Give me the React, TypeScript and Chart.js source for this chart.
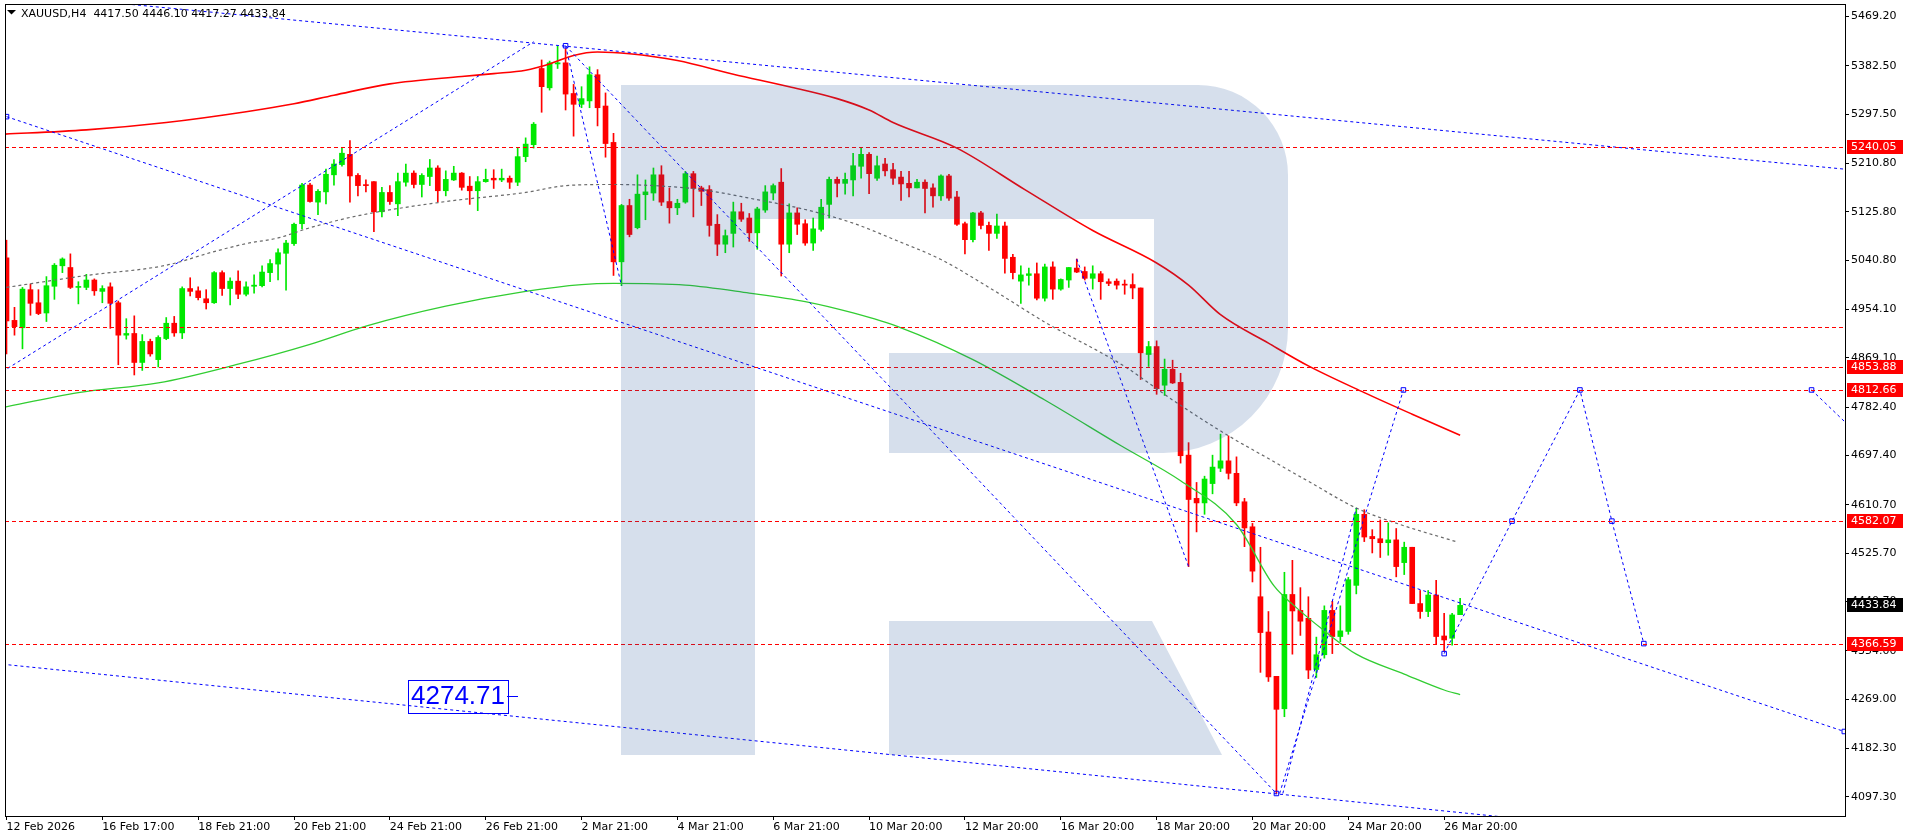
import React, { useEffect, useRef } from 'react';
import { Chart, registerables } from 'chart.js';

Chart.register(...registerables);

// ---------- candle data (XAUUSD H4) ----------
const OPEN = [5045,4935,4922,4989,4966,4948,4995,5031,5028,4993,4993,5006,4986,4994,4966,4909,4912,4861,4898,4866,4903,4930,4913,4991,4987,4973,4966,5019,4991,5004,4981,4995,4996,5019,5034,5053,5070,5105,5173,5143,5161,5191,5209,5227,5190,5173,5179,5126,5160,5140,5178,5194,5174,5188,5203,5163,5182,5194,5171,5163,5179,5185,5182,5185,5178,5223,5244,5378,5344,5386,5388,5334,5315,5321,5367,5312,5248,5038,5137,5098,5156,5159,5191,5144,5133,5143,5193,5168,5165,5104,5069,5088,5126,5115,5089,5129,5159,5178,5069,5124,5105,5071,5095,5139,5183,5176,5182,5206,5227,5185,5210,5200,5187,5176,5168,5178,5168,5154,5189,5152,5105,5077,5124,5102,5088,5101,5046,5004,5014,5017,4974,5029,4990,5006,5027,5021,5009,5017,5003,5004,4998,4998,4992,4875,4889,4821,4849,4826,4698,4622,4614,4648,4675,4688,4666,4616,4572,4449,4387,4309,4252,4453,4425,4411,4321,4347,4425,4379,4388,4469,4594,4555,4551,4544,4549,4509,4536,4437,4423,4452,4380,4376,4417.5];
const HIGH = [5076,4958,4993,4999,4989,5012,5035,5045,5052,5003,5016,5008,4996,5001,4969,4938,4943,4910,4902,4908,4940,4942,4994,5010,4994,4989,5021,5022,5010,5022,5003,5015,5031,5042,5061,5076,5106,5176,5176,5165,5201,5218,5239,5251,5193,5182,5179,5169,5172,5194,5210,5198,5193,5218,5207,5198,5206,5195,5188,5188,5201,5200,5201,5189,5239,5256,5283,5393,5391,5417,5413,5350,5346,5381,5376,5335,5264,5139,5148,5191,5182,5203,5207,5168,5148,5197,5197,5171,5172,5121,5094,5143,5141,5123,5134,5172,5175,5202,5140,5133,5112,5115,5148,5187,5187,5194,5229,5238,5230,5224,5220,5211,5197,5197,5183,5182,5175,5191,5192,5162,5108,5125,5127,5108,5122,5108,5051,5031,5027,5036,5034,5038,5008,5028,5043,5029,5031,5021,5008,5008,5006,5017,4992,4898,4899,4867,4865,4842,4720,4650,4661,4698,4735,4732,4695,4622,4578,4536,4423,4309,4492,4513,4465,4449,4378,4433,4441,4433,4483,4605,4602,4567,4584,4579,4569,4545,4536,4460,4460,4478,4420,4420,4446.1];
const LOW = [4876,4909,4885,4944,4945,4933,4972,5019,4991,4964,4989,4979,4966,4921,4857,4902,4839,4847,4872,4853,4901,4907,4903,4978,4971,4955,4965,4979,4962,4973,4978,4983,4994,5003,5006,4988,5067,5096,5143,5121,5140,5173,5206,5143,5154,5161,5091,5117,5139,5119,5171,5168,5152,5172,5143,5154,5181,5164,5139,5128,5178,5167,5179,5167,5172,5214,5238,5301,5340,5378,5305,5259,5309,5309,5277,5222,5014,4996,5082,5096,5112,5146,5137,5106,5121,5141,5117,5137,5083,5049,5054,5064,5109,5074,5060,5125,5147,5013,5054,5086,5067,5058,5092,5115,5152,5157,5154,5185,5158,5181,5189,5174,5146,5152,5168,5124,5134,5146,5146,5102,5052,5073,5096,5058,5079,5018,5008,4965,4997,4971,4969,4972,4988,4993,5019,5006,4990,4972,4996,4990,4981,4973,4831,4854,4805,4803,4824,4684,4502,4563,4594,4630,4669,4656,4609,4537,4475,4316,4300,4103,4238,4348,4381,4305,4307,4341,4349,4370,4383,4454,4546,4526,4518,4522,4484,4488,4437,4411,4414,4366,4353,4364,4417.27];
const CLOSE = [4934,4924,4990,4965,4947,4996,5032,5043,4993,4994,5006,4987,4991,4965,4909,4912,4861,4898,4876,4905,4930,4913,4991,4986,4975,4966,5019,4991,5004,4981,4994,4997,5020,5035,5054,5071,5104,5173,5144,5162,5192,5210,5229,5189,5172,5172,5126,5160,5144,5179,5194,5174,5190,5203,5163,5183,5194,5169,5163,5179,5183,5182,5185,5178,5223,5245,5280,5346,5388,5388,5333,5315,5325,5367,5309,5246,5038,5137,5086,5157,5161,5191,5143,5133,5141,5193,5167,5162,5102,5069,5084,5126,5113,5089,5131,5161,5172,5069,5124,5104,5071,5096,5134,5183,5176,5183,5207,5227,5193,5207,5198,5185,5175,5168,5178,5167,5154,5189,5150,5104,5077,5124,5102,5088,5101,5044,5019,5015,5017,4974,5029,4990,5007,5028,5020,5009,5017,5003,5000,4997,4997,4992,4878,4889,4815,4849,4825,4697,4620,4614,4656,4677,4688,4666,4614,4570,4494,4386,4308,4251,4453,4424,4406,4320,4347,4425,4379,4389,4479,4594,4554,4551,4544,4549,4502,4536,4437,4423,4452,4379,4373,4417,4433.84];

// ---------- axes ----------
const X_TICK_BARS = [0, 12, 24, 36, 48, 60, 72, 84, 96, 108, 120, 132, 144, 156, 168, 180];
const X_TICK_LABELS = ['12 Feb 2026', '16 Feb 17:00', '18 Feb 21:00', '20 Feb 21:00', '24 Feb 21:00', '26 Feb 21:00', '2 Mar 21:00', '4 Mar 21:00', '6 Mar 21:00', '10 Mar 20:00', '12 Mar 20:00', '16 Mar 20:00', '18 Mar 20:00', '20 Mar 20:00', '24 Mar 20:00', '26 Mar 20:00'];
const Y_TICK_VALUES = [5469.2, 5382.5, 5297.5, 5210.8, 5125.8, 5040.8, 4954.1, 4869.1, 4782.4, 4697.4, 4610.7, 4525.7, 4440.7, 4354.0, 4269.0, 4182.3, 4097.3];
const X_RANGE = [-0.1875, 230.1875];
const Y_RANGE = [4063.4, 5489.65];

// ---------- levels ----------
const LEVELS = [5240.05, 4923.5, 4853.88, 4812.66, 4582.07, 4366.59];
const LEVEL_TAGGED = [true, false, true, true, true, true];
const CURRENT_PRICE = 4433.84;
const HEADER = 'XAUUSD,H4  4417.50 4446.10 4417.27 4433.84';

// ---------- moving averages [bar, price] ----------
const MA_RED = [[-1, 5262], [10, 5270], [20, 5283], [30, 5302], [36, 5316], [41, 5331], [48, 5351], [57, 5364], [61, 5369], [65, 5375], [68, 5386], [71, 5401], [74, 5407], [78, 5404], [84, 5392], [91, 5368], [98, 5346], [104, 5325], [108, 5305], [111, 5283], [119, 5238], [127.5, 5165], [136, 5093], [144, 5036], [148, 4997], [152, 4945], [158, 4895], [163, 4855], [170, 4808], [176, 4770], [182, 4733]];
const MA_GREEN = [[-1, 4780], [9, 4808], [19, 4825], [29, 4858], [38, 4893], [45, 4925], [55, 4960], [65, 4986], [72, 4998], [76, 5000], [85, 4997], [93, 4983], [100, 4968], [106, 4948], [112, 4922], [121, 4866], [130, 4795], [139.6, 4714], [147, 4653], [154, 4576], [158.7, 4468], [161, 4436], [165, 4389], [169, 4348], [175, 4313], [180, 4285], [182, 4277]];
const MA_GRAY = [[0, 4993], [10, 5014], [20, 5032], [26, 5056], [30, 5070], [34, 5080], [38, 5098], [44, 5119], [55, 5144], [65, 5160], [70, 5172], [76, 5174], [81, 5172], [87, 5165], [93, 5150], [100, 5130], [106, 5106], [111, 5078], [117, 5042], [123, 4993], [130, 4932], [140, 4854], [146, 4795], [153, 4732], [158, 4692], [163, 4652], [169, 4605], [174.5, 4576], [181.7, 4545]];

// ---------- trend lines [bar, price] ----------
const TL_TOP = [[0, 5511.7], [230.2, 5200.9]];
const TL_CHANNEL_UP = [[0, 5293.3], [230.1, 4212]];
const TL_RISE = [[-0.5, 4845], [66, 5425]];
const TL_ZIG_A = [[70, 5418], [77, 4996]];
const TL_PEAK_LOW = [[70, 5418], [159, 4103]];
const TL_ZIG_B = [[134, 5043], [148, 4502]];
const TL_LOWER = [[-0.5, 4330.3], [190, 4058]];
const TL_REBOUND_A = [[159.8, 4103], [169, 4605]];
const TL_REBOUND_B = [[159.4, 4103], [174.9, 4812.66]];
const FORECAST_1 = [[180, 4349], [188.5, 4582], [197, 4812.66], [201, 4582], [205, 4366.59]];
const FORECAST_2 = [[226, 4812.66], [232, 4732]];
const MARKERS = [[0, 5293.3], [230.1, 4212], [70, 5418], [159, 4103], [174.9, 4812.66], [180, 4349], [188.5, 4582], [197, 4812.66], [201, 4582], [205, 4366.59], [226, 4812.66]];
const PRICE_TAG = { bar: 64, price: 4274.71, text: '4274.71' };

const FONT = '"DejaVu Sans", Verdana, sans-serif';

const toXY = (arr: number[][]) => arr.map(([x, y]) => ({ x, y }));

const overlayPlugin = {
  id: 'mt4Overlay',
  beforeDraw(chart: any) {
    const { ctx, width, height } = chart;
    ctx.save();
    ctx.fillStyle = '#ffffff';
    ctx.fillRect(0, 0, width, height);
    ctx.restore();
  },
  afterDatasetsDraw(chart: any) {
    const { ctx, chartArea: a, scales } = chart;
    const xs = scales.x;
    const ys = scales.y;
    ctx.save();
    ctx.beginPath();
    ctx.rect(a.left, a.top, a.right - a.left, a.bottom - a.top);
    ctx.clip();
    // horizontal levels
    ctx.strokeStyle = '#ff0000';
    ctx.lineWidth = 1;
    ctx.setLineDash([4, 3]);
    LEVELS.forEach((lv) => {
      const y = Math.round(ys.getPixelForValue(lv)) + 0.5;
      ctx.beginPath();
      ctx.moveTo(a.left, y);
      ctx.lineTo(a.right, y);
      ctx.stroke();
    });
    ctx.setLineDash([]);
    // price tag
    const px = Math.round(xs.getPixelForValue(PRICE_TAG.bar));
    const py = Math.round(ys.getPixelForValue(PRICE_TAG.price));
    ctx.strokeStyle = '#0000ff';
    ctx.lineWidth = 1;
    ctx.beginPath();
    ctx.moveTo(px - 11, py + 0.5);
    ctx.lineTo(px, py + 0.5);
    ctx.stroke();
    ctx.strokeRect(px - 110 + 0.5, py - 16 + 0.5, 100, 33);
    ctx.fillStyle = '#0000ff';
    ctx.font = '26px "Liberation Sans", Arial, sans-serif';
    ctx.textBaseline = 'middle';
    ctx.textAlign = 'center';
    ctx.fillText(PRICE_TAG.text, px - 60, py + 1);
    // watermark "R"
    ctx.fillStyle = 'rgba(30,80,150,0.18)';
    ctx.fillRect(621, 85, 134, 670);
    const R1 = 90;
    const R2 = 125;
    const bb = 453;
    ctx.beginPath();
    ctx.moveTo(755, 85);
    ctx.lineTo(1288 - R1, 85);
    ctx.arcTo(1288, 85, 1288, 85 + R1, R1);
    ctx.lineTo(1288, bb - R2);
    ctx.arcTo(1288, bb, 1288 - R2, bb, R2);
    ctx.lineTo(889, bb);
    ctx.lineTo(889, 353);
    ctx.lineTo(1154, 353);
    ctx.lineTo(1154, 219);
    ctx.lineTo(755, 219);
    ctx.closePath();
    ctx.fill();
    ctx.beginPath();
    ctx.moveTo(889, 621);
    ctx.lineTo(1152, 621);
    ctx.lineTo(1222, 755);
    ctx.lineTo(889, 755);
    ctx.closePath();
    ctx.fill();
    ctx.restore();
  },
  afterDraw(chart: any) {
    const { ctx, chartArea: a, scales } = chart;
    const ys = scales.y;
    ctx.save();
    // frame
    ctx.strokeStyle = '#000000';
    ctx.lineWidth = 1;
    ctx.strokeRect(a.left + 0.5, a.top - 0.5, a.right - a.left, a.bottom - a.top + 1);
    // header
    ctx.fillStyle = '#000000';
    ctx.beginPath();
    ctx.moveTo(7, 10);
    ctx.lineTo(16, 10);
    ctx.lineTo(11.5, 14.5);
    ctx.closePath();
    ctx.fill();
    ctx.font = '11px ' + FONT;
    ctx.textBaseline = 'alphabetic';
    ctx.textAlign = 'left';
    ctx.fillText(HEADER, 21, 17);
    // axis price tags
    ctx.textBaseline = 'middle';
    const tag = (v: number, bg: string) => {
      const y = Math.round(ys.getPixelForValue(v));
      ctx.fillStyle = bg;
      ctx.fillRect(a.right + 2, y - 7, 56, 14);
      ctx.fillStyle = '#ffffff';
      ctx.fillText(v.toFixed(2), a.right + 6, y + 0.5);
    };
    LEVELS.forEach((lv, i) => {
      if (LEVEL_TAGGED[i]) tag(lv, '#ff0000');
    });
    tag(CURRENT_PRICE, '#000000');
    ctx.restore();
  },
};

export default function App() {
  const ref = useRef<HTMLCanvasElement | null>(null);

  useEffect(() => {
    document.body.style.margin = '0';
    const canvas = ref.current;
    if (!canvas) return;
    const idx = OPEN.map((_, i) => i);
    const colors = idx.map((i) => (CLOSE[i] >= OPEN[i] ? '#00e800' : '#ff0000'));

    const lineDs = (data: number[][], color: string, extra: any = {}) => ({
      type: 'line',
      data: toXY(data),
      borderColor: color,
      borderWidth: 1,
      pointRadius: 0,
      fill: false,
      tension: 0,
      ...extra,
    });

    const blue = '#0000ff';
    const dot = [3, 3];

    const chart = new Chart(canvas, {
      type: 'bar',
      data: {
        datasets: [
          {
            type: 'bar',
            data: idx.map((i) => ({ x: i, y: [LOW[i], HIGH[i]] })),
            backgroundColor: colors,
            barThickness: 1,
            grouped: false,
            borderWidth: 0,
            order: 20,
          },
          {
            type: 'bar',
            data: idx.map((i) => ({ x: i, y: [OPEN[i], CLOSE[i]] })),
            backgroundColor: colors,
            barThickness: 5,
            grouped: false,
            borderWidth: 0,
            minBarLength: 1,
            order: 19,
          },
          lineDs(MA_RED, '#ff0000', { borderWidth: 1.6, cubicInterpolationMode: 'monotone', order: 10 }),
          lineDs(MA_GREEN, '#32cd32', { borderWidth: 1.3, cubicInterpolationMode: 'monotone', order: 10 }),
          lineDs(MA_GRAY, '#6a6a6a', { borderWidth: 1.2, borderDash: [3, 3], cubicInterpolationMode: 'monotone', order: 10 }),
          lineDs(TL_TOP, blue, { borderDash: dot, order: 5 }),
          lineDs(TL_CHANNEL_UP, blue, { borderDash: dot, order: 5 }),
          lineDs(TL_RISE, blue, { borderDash: dot, order: 5 }),
          lineDs(TL_ZIG_A, blue, { borderDash: dot, order: 5 }),
          lineDs(TL_PEAK_LOW, blue, { borderDash: dot, order: 5 }),
          lineDs(TL_ZIG_B, blue, { borderDash: dot, order: 5 }),
          lineDs(TL_LOWER, blue, { borderDash: dot, order: 5 }),
          lineDs(TL_REBOUND_A, blue, { borderDash: dot, order: 5 }),
          lineDs(TL_REBOUND_B, blue, { borderDash: dot, order: 5 }),
          lineDs(FORECAST_1, blue, { borderDash: dot, order: 5 }),
          lineDs(FORECAST_2, blue, { borderDash: dot, order: 5 }),
          {
            type: 'line',
            data: toXY(MARKERS),
            showLine: false,
            pointStyle: 'rect',
            pointRadius: 3.2,
            pointBorderWidth: 1,
            pointBorderColor: blue,
            pointBackgroundColor: 'rgba(0,0,0,0)',
            order: 4,
          },
        ] as any,
      },
      options: {
        responsive: false,
        animation: false,
        devicePixelRatio: 1,
        events: [],
        layout: { padding: { left: 2, top: 1, right: 0, bottom: 0 } },
        plugins: { legend: { display: false }, tooltip: { enabled: false } },
        scales: {
          x: {
            type: 'linear',
            position: 'bottom',
            min: X_RANGE[0],
            max: X_RANGE[1],
            offset: false,
            grid: { display: true, drawOnChartArea: false, drawTicks: true, tickLength: 4, tickColor: '#000', color: '#000', offset: false },
            border: { display: true, color: '#000' },
            ticks: {
              autoSkip: false,
              maxRotation: 0,
              minRotation: 0,
              align: 'start',
              padding: 1,
              color: '#000',
              font: { family: FONT, size: 11 },
              callback: (v: any) => {
                const k = X_TICK_BARS.indexOf(Number(v));
                return k >= 0 ? X_TICK_LABELS[k] : '';
              },
            },
            afterBuildTicks: (s: any) => {
              s.ticks = X_TICK_BARS.map((v) => ({ value: v }));
            },
            afterFit: (s: any) => {
              s.height = 24;
              s.paddingLeft = 0;
              s.paddingRight = 0;
            },
          },
          y: {
            type: 'linear',
            position: 'right',
            min: Y_RANGE[0],
            max: Y_RANGE[1],
            grid: { display: true, drawOnChartArea: false, drawTicks: true, tickLength: 4, tickColor: '#000', color: '#000' },
            border: { display: true, color: '#000' },
            ticks: {
              autoSkip: false,
              padding: 2,
              color: '#000',
              font: { family: FONT, size: 11 },
              callback: (v: any) => Number(v).toFixed(2),
            },
            afterBuildTicks: (s: any) => {
              s.ticks = Y_TICK_VALUES.map((v) => ({ value: v }));
            },
            afterFit: (s: any) => {
              s.width = 64;
              s.paddingTop = 0;
              s.paddingBottom = 0;
            },
          },
        },
      } as any,
      plugins: [overlayPlugin],
    });

    return () => chart.destroy();
  }, []);

  return (
    <div style={{ position: 'fixed', left: 0, top: 0, width: 1909, height: 840 }}>
      <canvas ref={ref} width={1909} height={840} style={{ display: 'block', width: 1909, height: 840 }} />
    </div>
  );
}
